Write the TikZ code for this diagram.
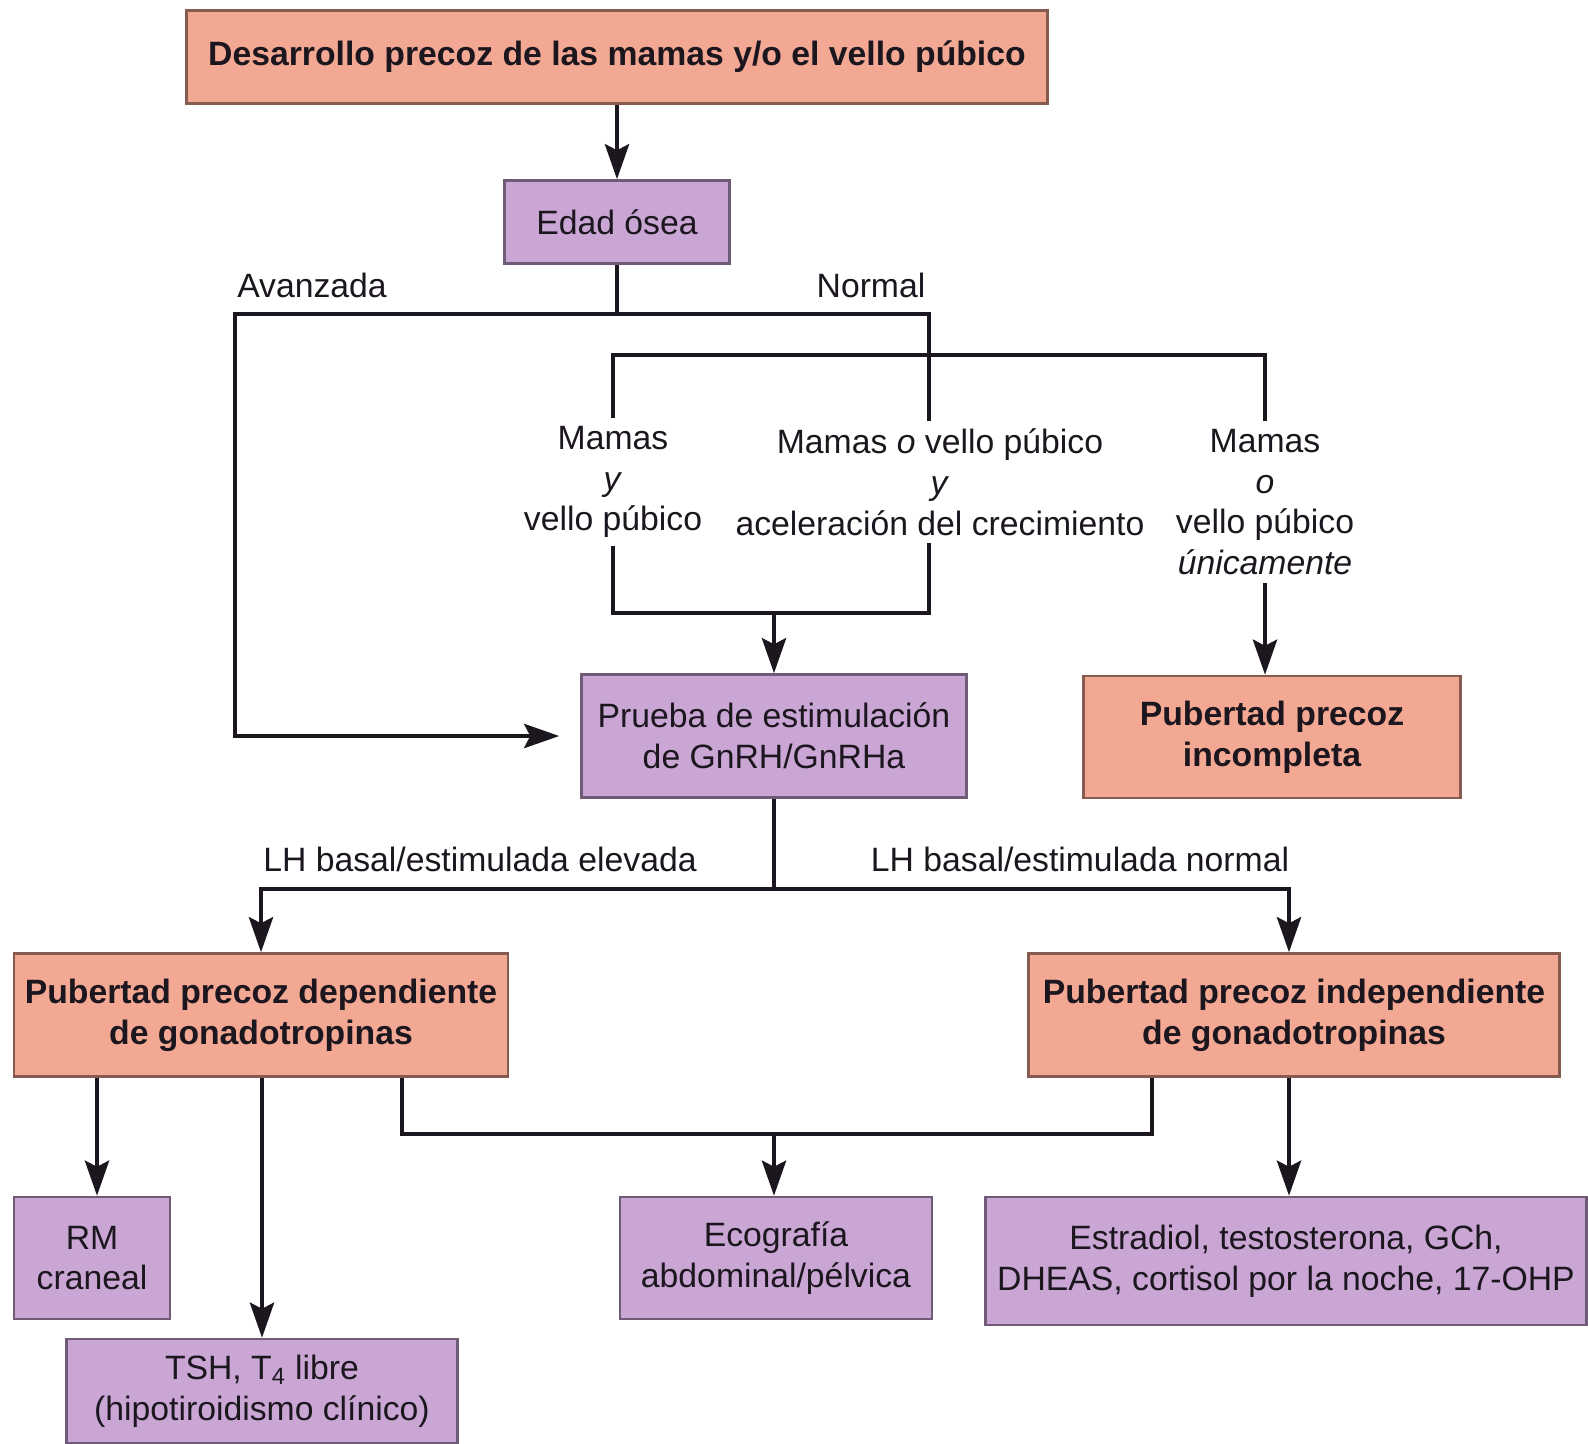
\documentclass[tikz,border=0pt]{standalone}
\usepackage{fontspec}
\setmainfont{Liberation Sans}
\usetikzlibrary{arrows.meta,positioning,calc}
\definecolor{salmon}{RGB}{243,168,148}
\definecolor{lilac}{RGB}{201,166,212}
\definecolor{ink}{RGB}{28,22,30}
\tikzset{
  >={Stealth[length=7mm,width=4.8mm,inset=1.2mm]},
  box/.style={fill=#1,draw=#1!55!black,line width=0.5mm,align=center,
    text=ink,inner sep=1.5mm,font=\fontsize{19.2}{23.2}\selectfont},
  box/.default=lilac,
  hot/.style={box=salmon,font=\fontsize{19.2}{23.2}\selectfont\bfseries},
  tag/.style={text=ink,align=center,inner sep=1.5mm,font=\fontsize{19.2}{23.2}\selectfont},
  wire/.style={draw=ink,line width=0.95mm},
  flow/.style={wire,->},
}
\begin{document}
\begin{tikzpicture}[x=0.2mm,y=-0.2mm]
\useasboundingbox[fill=white] (0,0) rectangle (1588,1443);
% boxes
\node[hot,minimum width=172.2mm,minimum height=18.6mm] (start) at (617,57) {Desarrollo precoz de las mamas y/o el vello púbico};
\node[box,minimum width=45mm,minimum height=16.6mm] (bone) at (617,222) {Edad ósea};
\node[box,minimum width=77mm,minimum height=24.6mm] (test) at (774,736) {Prueba de estimulación\\de GnRH/GnRHa};
\node[hot,minimum width=75.4mm,minimum height=24.4mm] (partial) at (1272,737) {Pubertad precoz\\incompleta};
\node[hot,minimum width=98.8mm,minimum height=24.6mm] (central) at (261,1015) {Pubertad precoz dependiente\\de gonadotropinas};
\node[hot,minimum width=106.2mm,minimum height=24.6mm] (periph) at (1294,1015) {Pubertad precoz independiente\\de gonadotropinas};
\node[box,minimum width=31.2mm,minimum height=24.4mm] (mri) at (92,1258) {RM\\craneal};
\node[box,minimum width=78.2mm,minimum height=20.8mm] (thyr) at (262,1391) {TSH, T\textsubscript{4} libre\\(hipotiroidismo clínico)};
\node[box,minimum width=62.4mm,minimum height=24.4mm] (echo) at (776,1258) {Ecografía\\abdominal/pélvica};
\node[box,minimum width=120.2mm,minimum height=25.6mm] (labs) at (1286,1261) {Estradiol, testosterona, GCh,\\DHEAS, cortisol por la noche, 17-OHP};
% labels
\node[tag] (adv) at (312,285) {Avanzada};
\node[tag] (norm) at (871,285) {Normal};
\node[tag] (both) at (613,482) {Mamas\\\textit{y}\\vello púbico};
\node[tag] (fast) at (940,482) {Mamas \textit{o} vello púbico\\\textit{y}\\aceleración del crecimiento};
\node[tag] (only) at (1265,502) {Mamas\\\textit{o}\\vello púbico\\\textit{únicamente}};
\node[tag] (high) at (480,859) {LH basal/estimulada elevada};
\node[tag] (low) at (1080,859) {LH basal/estimulada normal};
% joints
\coordinate (s1) at (617,314);
\coordinate (left) at (235,736);
\coordinate (nx) at (929,0);
\coordinate (br) at (929,355);
\coordinate (j1) at (774,613);
\coordinate (s2) at (774,889);
\coordinate (j2) at (774,1134);
\coordinate (mx) at (97,0);
\coordinate (dx) at (402,0);
\coordinate (ix) at (1152,0);
\coordinate (px) at (1289,0);
% connectors
\draw[flow] (start) -- (bone);
\draw[wire] (bone) -- (s1);
\draw[flow,shorten >=4.2mm] (s1) -| (left) -- (test.west);
\draw[wire] (s1) -| (fast.north -| nx);
\draw[wire] (both.north) |- (br) -| (only.north);
\draw[wire] (both.south) |- (j1) -| (fast.south -| nx);
\draw[flow] (j1) -- (test);
\draw[flow] (only.south) -- (only.south |- partial.north);
\draw[wire] (test) -- (s2);
\draw[flow] (s2) -| (central);
\draw[flow] (s2) -| (periph.north -| px);
\draw[flow] (central.south -| mx) -- (mri.north -| mx);
\draw[flow] (central.south -| thyr.north) -- (thyr);
\draw[wire] (central.south -| dx) |- (j2) -| (periph.south -| ix);
\draw[flow] (j2) -- (j2 |- echo.north);
\draw[flow] (periph.south -| px) -- (labs.north -| px);
\end{tikzpicture}
\end{document}
